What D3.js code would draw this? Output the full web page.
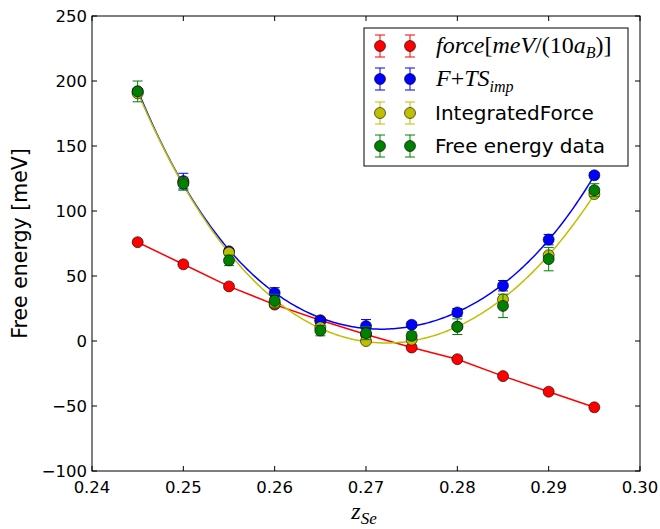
<!DOCTYPE html>
<html>
<head>
<meta charset="utf-8">
<script src="https://cdn.jsdelivr.net/npm/d3@7"></script>
<style>
  body { margin: 0; background: #fff; }
</style>
</head>
<body>
<svg id="chart" width="660" height="529" font-family="DejaVu Sans, sans-serif"></svg>
<script>
// ---- data ----
const zValues = [0.245, 0.25, 0.255, 0.26, 0.265, 0.27, 0.275, 0.28, 0.285, 0.29, 0.295];
const forceValues = [76, 59, 42, 28, 16, 5, -5, -14, -27, -39, -51];
const forceErr =    [0, 0, 0, 0, 0, 0, 0, 0, 0, 0, 0];
const ftsValues =   [192, 123, 69, 37, 15.5, 11.5, 12.5, 22, 42.5, 78, 127.5];
const ftsErr =      [2, 6, 2, 4, 2, 5, 2, 3, 4, 4, 2];
const intValues =   [190.5, 122, 68, 29, 10.5, 0, 1, 11, 32, 66, 113];
const intErr =      [0, 0, 0, 0, 0, 0, 0, 0, 0, 0, 0];
const feValues =    [192, 121, 62, 31, 8, 6, 4, 11, 27, 63, 116];
const feErr =       [8, 5, 4, 5, 4, 5, 3, 6, 9, 9, 5];
const xTicks = [0.24, 0.25, 0.26, 0.27, 0.28, 0.29, 0.30];
const yTicks = [-100, -50, 0, 50, 100, 150, 200, 250];

const svg = d3.select("#chart");
const L = 92, R = 640, T = 16, B = 471;
const x = d3.scaleLinear().domain([0.24, 0.30]).range([L, R]);
const y = d3.scaleLinear().domain([-100, 250]).range([B, T]);

// least squares polynomial fit (on centered variable)
function polyfit(xs, ys, deg) {
  const c = 0.27, s = 0.025;
  const n = deg + 1;
  const A = Array.from({length: n}, () => new Array(n + 1).fill(0));
  xs.forEach((xv, k) => {
    const t = (xv - c) / s;
    const p = [];
    for (let i = 0; i < n; i++) p.push(Math.pow(t, i));
    for (let i = 0; i < n; i++) {
      for (let j = 0; j < n; j++) A[i][j] += p[i] * p[j];
      A[i][n] += p[i] * ys[k];
    }
  });
  for (let i = 0; i < n; i++) {
    let m = i;
    for (let r = i + 1; r < n; r++) if (Math.abs(A[r][i]) > Math.abs(A[m][i])) m = r;
    [A[i], A[m]] = [A[m], A[i]];
    for (let r = 0; r < n; r++) {
      if (r === i) continue;
      const f = A[r][i] / A[i][i];
      for (let j = i; j <= n; j++) A[r][j] -= f * A[i][j];
    }
  }
  const coef = A.map((row, i) => row[n] / row[i]);
  return z => {
    const t = (z - c) / s;
    let v = 0;
    for (let i = n - 1; i >= 0; i--) v = v * t + coef[i];
    return v;
  };
}

svg.append("clipPath").attr("id", "plotclip").append("rect")
  .attr("x", L).attr("y", T).attr("width", R - L).attr("height", B - T);
const plot = svg.append("g").attr("clip-path", "url(#plotclip)");

const dense = d3.range(0, 201).map(i => 0.245 + i * 0.05 / 200);
const line = d3.line().x(d => x(d[0])).y(d => y(d[1]));

plot.append("path")
  .attr("d", line(zValues.map((z, i) => [z, forceValues[i]])))
  .attr("fill", "none").attr("stroke", "#ff0000").attr("stroke-width", 1.5);

const fitB = polyfit(zValues, ftsValues, 4);
plot.append("path")
  .attr("d", line(dense.map(z => [z, fitB(z)])))
  .attr("fill", "none").attr("stroke", "#0000ff").attr("stroke-width", 1.5);

const fitY = polyfit(zValues, intValues, 4);
plot.append("path")
  .attr("d", line(dense.map(z => [z, fitY(z)])))
  .attr("fill", "none").attr("stroke", "#bfbf00").attr("stroke-width", 1.5);

const series = [
  {name: "force", vals: forceValues, err: forceErr, color: "#ff0000"},
  {name: "fts", vals: ftsValues, err: ftsErr, color: "#0000ff"},
  {name: "int", vals: intValues, err: intErr, color: "#bfbf00"},
  {name: "fe", vals: feValues, err: feErr, color: "#008000"}
];

function errorbar(g, cx, cy, hh, color) {
  if (hh > 0.5) {
    g.append("line").attr("x1", cx).attr("x2", cx).attr("y1", cy - hh).attr("y2", cy + hh)
      .attr("stroke", color).attr("stroke-width", 1);
    [-hh, hh].forEach(o => g.append("line").attr("x1", cx - 5).attr("x2", cx + 5)
      .attr("y1", cy + o).attr("y2", cy + o).attr("stroke", color).attr("stroke-width", 1));
  }
  g.append("circle").attr("cx", cx).attr("cy", cy).attr("r", 5.5)
    .attr("fill", color).attr("stroke", "#000").attr("stroke-width", 0.6);
}

series.forEach(s => {
  const g = plot.append("g");
  zValues.forEach((z, i) => {
    const hh = y(s.vals[i] - s.err[i]) - y(s.vals[i]);
    errorbar(g, x(z), y(s.vals[i]), hh, s.color);
  });
});

svg.append("rect").attr("x", L).attr("y", T).attr("width", R - L).attr("height", B - T)
  .attr("fill", "none").attr("stroke", "#000").attr("stroke-width", 1);

const tk = 5;
xTicks.forEach(t => {
  svg.append("line").attr("x1", x(t)).attr("x2", x(t)).attr("y1", B).attr("y2", B - tk).attr("stroke", "#000");
  svg.append("line").attr("x1", x(t)).attr("x2", x(t)).attr("y1", T).attr("y2", T + tk).attr("stroke", "#000");
  svg.append("text").attr("x", x(t)).attr("y", B + 22).attr("text-anchor", "middle")
    .attr("font-size", 16.5).attr("fill", "#000").text(d3.format(".2f")(t));
});
yTicks.forEach(t => {
  svg.append("line").attr("x1", L).attr("x2", L + tk).attr("y1", y(t)).attr("y2", y(t)).attr("stroke", "#000");
  svg.append("line").attr("x1", R).attr("x2", R - tk).attr("y1", y(t)).attr("y2", y(t)).attr("stroke", "#000");
  svg.append("text").attr("x", L - 5).attr("y", y(t) + 6).attr("text-anchor", "end")
    .attr("font-size", 16.5).attr("fill", "#000").text(t < 0 ? "\u2212" + Math.abs(t) : t);
});

svg.append("text").attr("transform", `translate(27,${(T + B) / 2}) rotate(-90)`)
  .attr("text-anchor", "middle").attr("font-size", 20.5).attr("fill", "#000").text("Free energy [meV]");

const mathFont = "'Liberation Serif', 'DejaVu Serif', serif";
const xl = svg.append("text").attr("x", x(0.27) - 2).attr("y", 519).attr("text-anchor", "middle")
  .style("font-family", mathFont).style("font-style", "italic").attr("font-size", 24).attr("fill", "#000");
xl.append("tspan").text("z");
xl.append("tspan").attr("font-size", 17).attr("dy", 5).text("Se");

const lg = svg.append("g");
lg.append("rect").attr("x", 364).attr("y", 28).attr("width", 264).attr("height", 138)
  .attr("fill", "#fff").attr("stroke", "#000").attr("stroke-width", 1);
const rows = [46, 79, 113, 146];
series.forEach((s, i) => {
  [380, 410].forEach(cx => errorbar(lg, cx, rows[i], 11, s.color));
});
const t1 = lg.append("text").attr("x", 436).attr("y", rows[0] + 7)
  .style("font-family", mathFont).style("font-style", "italic").attr("font-size", 24).attr("fill", "#000");
t1.append("tspan").text("force");
t1.append("tspan").style("font-style", "normal").text("[");
t1.append("tspan").text("meV");
t1.append("tspan").style("font-style", "normal").text("/(10");
t1.append("tspan").text("a");
t1.append("tspan").attr("font-size", 16).attr("dy", 5).text("B");
t1.append("tspan").style("font-style", "normal").attr("dy", -5).text(")]");
const t2 = lg.append("text").attr("x", 436).attr("y", rows[1] + 7)
  .style("font-family", mathFont).style("font-style", "italic").attr("font-size", 24).attr("fill", "#000");
t2.append("tspan").text("F");
t2.append("tspan").style("font-style", "normal").text("+");
t2.append("tspan").text("TS");
t2.append("tspan").attr("font-size", 16).attr("dy", 6).text("imp");
lg.append("text").attr("x", 435).attr("y", rows[2] + 7).attr("font-size", 20).attr("fill", "#000").text("IntegratedForce");
lg.append("text").attr("x", 435).attr("y", rows[3] + 7).attr("font-size", 20).attr("fill", "#000").text("Free energy data");
</script>
</body>
</html>
